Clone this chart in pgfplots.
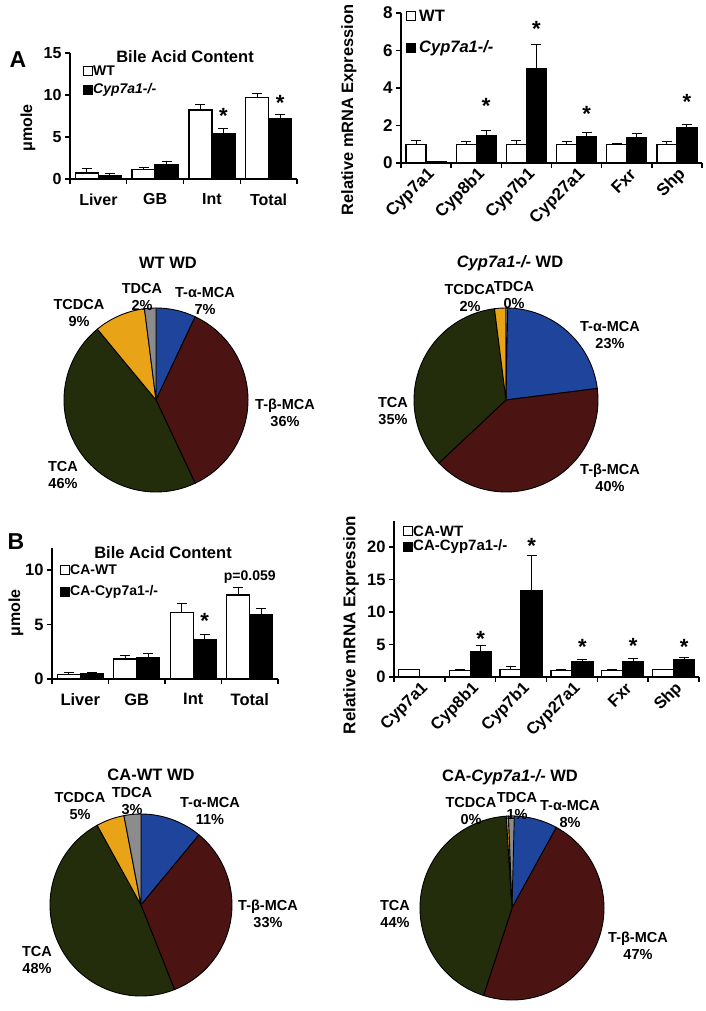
\documentclass[border=0pt]{standalone}
\usepackage{fontspec}
\setmainfont{Liberation Sans}
\usepackage{pgfplots}
\usepackage{pgfplotstable}
\pgfplotsset{compat=1.18}

\definecolor{alphamca}{HTML}{1E449B}
\definecolor{betamca}{HTML}{4B1412}
\definecolor{tcagreen}{HTML}{232D0C}
\definecolor{tcdcaorange}{HTML}{E8A317}
\definecolor{tdcagray}{HTML}{8C8C8C}

\newcommand{\fs}[1]{\fontsize{#1}{#1}\selectfont\bfseries}

% bile acid content, panel A
\pgfplotstableread{
x wt wte ko koe
0 0.70 0.60 0.36 0.32
1 1.15 0.25 1.67 0.43
2 8.20 0.70 5.44 0.60
3 9.70 0.50 7.20 0.50
}\contentA
% mRNA, panel A
\pgfplotstableread{
x wt wte ko koe
0 1.00 0.20 0.05 0.00
1 1.00 0.12 1.45 0.30
2 1.00 0.22 5.05 1.25
3 1.00 0.12 1.40 0.25
4 1.00 0.05 1.35 0.20
5 1.00 0.12 1.90 0.15
}\mrnaA
% bile acid content, panel B
\pgfplotstableread{
x wt wte ko koe
0 0.43 0.12 0.46 0.10
1 1.83 0.35 1.93 0.45
2 6.08 0.80 3.64 0.40
3 7.70 0.70 5.93 0.55
}\contentB
% mRNA, panel B
\pgfplotstableread{
x wt wte ko koe
0 1.10 0.12 0.10 0.00
1 1.05 0.15 3.95 0.90
2 1.10 0.45 13.30 5.40
3 1.05 0.10 2.30 0.40
4 1.05 0.10 2.30 0.50
5 1.10 0.12 2.70 0.35
}\mrnaB

\pgfplotsset{
  barchart/.style={
    scale only axis, anchor=south west, clip=false,
    axis x line*=bottom, axis y line*=left,
    axis line style={line width=1.4pt, -},
    every outer x axis line/.append style={-},
    every outer y axis line/.append style={-},
    ymin=0, ybar=0pt,
    xtick style={draw=none},
    ytick style={line width=1.4pt, black},
    tick align=outside, major tick length=5pt,
    /pgf/number format/assume math mode=true,
  },
  wtbar/.style={draw=black, fill=white, line width=1.3pt},
  kobar/.style={draw=black, fill=black, line width=1.3pt},
  errs/.style={error bars/.cd, y dir=plus, y explicit,
    error bar style={line width=1pt, black},
    error mark options={rotate=90, mark size=5pt, line width=1pt, black}},
}

% legend square centred at (#1,#2)
\newcommand{\legbox}[3]{\draw[line width=1pt, fill=#3] (#1pt-4.5pt,#2pt-4.5pt) rectangle ++(9pt,9pt);}

% pie: #1 x, #2 y, #3 radius, #4..#8 = T-a-MCA, T-b-MCA, TCA, TCDCA, TDCA (%)
\newcommand{\pie}[8]{%
  \pgfmathsetmacro\aA{90}%
  \pgfmathsetmacro\aB{\aA-3.6*#4}%
  \pgfmathsetmacro\aC{\aB-3.6*#5}%
  \pgfmathsetmacro\aD{\aC-3.6*#6}%
  \pgfmathsetmacro\aE{\aD-3.6*#7}%
  \pgfmathsetmacro\aF{\aE-3.6*#8}%
  \begin{axis}[hide axis, scale only axis, clip=false,
      at={(#1pt,#2pt)}, anchor=center, width=2*#3pt, height=2*#3pt,
      xmin=-1, xmax=1, ymin=-1, ymax=1]
    \fill[alphamca, draw=black, line width=0.9pt] (axis cs:0,0) -- ++(\aA:#3pt) arc[start angle=\aA, end angle=\aB, radius=#3pt] -- cycle;
    \fill[betamca, draw=black, line width=0.9pt] (axis cs:0,0) -- ++(\aB:#3pt) arc[start angle=\aB, end angle=\aC, radius=#3pt] -- cycle;
    \fill[tcagreen, draw=black, line width=0.9pt] (axis cs:0,0) -- ++(\aC:#3pt) arc[start angle=\aC, end angle=\aD, radius=#3pt] -- cycle;
    \fill[tcdcaorange, draw=black, line width=0.9pt] (axis cs:0,0) -- ++(\aD:#3pt) arc[start angle=\aD, end angle=\aE, radius=#3pt] -- cycle;
    \fill[tdcagray, draw=black, line width=0.9pt] (axis cs:0,0) -- ++(\aE:#3pt) arc[start angle=\aE, end angle=\aF, radius=#3pt] -- cycle;
  \end{axis}}

\begin{document}
\begin{tikzpicture}
\path[use as bounding box] (0,0) rectangle (706pt,1011pt);

% ---------- A: bile acid content ----------
\begin{axis}[barchart, at={(70pt,832pt)}, width=227pt, height=126pt,
    xmin=-0.5, xmax=3.5, ymax=15, ytick={0,5,10,15}, bar width=23pt,
    xtick={0,...,3}, xticklabels={Liver,GB,Int,Total},
    ticklabel style={font=\fs{16}}, xticklabel style={yshift=-6pt}]
  \addplot[wtbar, errs] table[x=x, y=wt, y error=wte] {\contentA};
  \addplot[kobar, errs] table[x=x, y=ko, y error=koe] {\contentA};
  \pgfplotsinvokeforeach{-0.5,0.5,1.5,2.5,3.5}{\draw[line width=1.4pt] (axis cs:#1,0) -- ++(0pt,-5pt);}
  \node[font=\fs{22}, xshift=11.5pt] at (axis cs:2,7.5) {*};
  \node[font=\fs{22}, xshift=11.5pt] at (axis cs:3,9.05) {*};
\end{axis}
\node[font=\fs{23}] at (18pt,951pt) {A};
\node[font=\fs{16.5}] at (185pt,954pt) {Bile Acid Content};
\node[font=\fs{16}, rotate=90] at (28pt,883pt) {μmole};
\legbox{87.5}{940}{white}
\legbox{87.5}{921}{black}
\node[font=\fs{14}, anchor=west, inner sep=0pt] at (93pt,940pt) {WT};
\node[font=\fs{14}, anchor=west, inner sep=0pt] at (93pt,921pt) {\itshape Cyp7a1-/-};

% ---------- A: mRNA ----------
\begin{axis}[barchart, at={(401pt,848pt)}, width=301pt, height=150pt,
    xmin=-0.5, xmax=5.5, ymax=8, ytick={0,2,4,6,8}, bar width=20pt,
    xtick={0,...,5}, xticklabels={Cyp7a1,Cyp8b1,Cyp7b1,Cyp27a1,Fxr,Shp},
    ticklabel style={font=\fs{17}},
    xticklabel style={rotate=45, anchor=east, xshift=5pt, yshift=-7pt}]
  \addplot[wtbar, errs] table[x=x, y=wt, y error=wte] {\mrnaA};
  \addplot[kobar, errs] table[x=x, y=ko, y error=koe] {\mrnaA};
  \pgfplotsinvokeforeach{-0.5,0.5,1.5,2.5,3.5,4.5,5.5}{\draw[line width=1.4pt] (axis cs:#1,0) -- ++(0pt,-5pt);}
  \node[font=\fs{22}, xshift=10pt] at (axis cs:1,3.04) {*};
  \node[font=\fs{22}, xshift=10pt] at (axis cs:2,7.15) {*};
  \node[font=\fs{22}, xshift=10pt] at (axis cs:3,2.61) {*};
  \node[font=\fs{22}, xshift=10pt] at (axis cs:5,3.25) {*};
\end{axis}
\node[font=\fs{16.4}, rotate=90] at (349pt,901pt) {Relative mRNA Expression};
\legbox{411}{995}{white}
\legbox{411}{963}{black}
\node[font=\fs{16.5}, anchor=west, inner sep=0pt] at (419pt,995pt) {WT};
\node[font=\fs{16.5}, anchor=west, inner sep=0pt] at (419pt,963pt) {\itshape Cyp7a1-/-};

% ---------- A: pies ----------
\pie{156}{611}{92}{7}{36}{46}{9}{2}
\node[font=\fs{16.5}] at (168pt,748pt) {WT WD};
\begin{scope}[every node/.style={font=\fontsize{14.5}{16.5}\selectfont\bfseries, align=center, inner sep=0pt}]
  \node at (205pt,710pt) {T-α-MCA\\7\%};
  \node at (285pt,598pt) {T-β-MCA\\36\%};
  \node at (63pt,536pt) {TCA\\46\%};
  \node at (79pt,698pt) {TCDCA\\9\%};
  \node at (142pt,714pt) {TDCA\\2\%};
\end{scope}

\pie{506}{611}{92}{23}{40}{35}{2}{0.3}
\node[font=\fs{16.5}] at (510pt,748pt) {\itshape Cyp7a1-/-\upshape{} WD};
\begin{scope}[every node/.style={font=\fontsize{14.5}{16.5}\selectfont\bfseries, align=center, inner sep=0pt}]
  \node at (610pt,676pt) {T-α-MCA\\23\%};
  \node at (610pt,533pt) {T-β-MCA\\40\%};
  \node at (393pt,600pt) {TCA\\35\%};
  \node at (470pt,713pt) {TCDCA\\2\%};
  \node at (514pt,716pt) {TDCA\\0\%};
\end{scope}

% ---------- B: bile acid content ----------
\begin{axis}[barchart, at={(52pt,332pt)}, width=226pt, height=131pt,
    xmin=-0.5, xmax=3.5, ymax=12, ytick={0,5,10}, bar width=23pt,
    xtick={0,...,3}, xticklabels={Liver,GB,Int,Total},
    ticklabel style={font=\fs{16.5}}, xticklabel style={yshift=-6pt}]
  \addplot[wtbar, errs] table[x=x, y=wt, y error=wte] {\contentB};
  \addplot[kobar, errs] table[x=x, y=ko, y error=koe] {\contentB};
  \pgfplotsinvokeforeach{-0.5,0.5,1.5,2.5,3.5}{\draw[line width=1.4pt] (axis cs:#1,0) -- ++(0pt,-5pt);}
  \node[font=\fs{22}, xshift=11.5pt] at (axis cs:2,5.3) {*};
  \node[font=\fs{14}] at (axis cs:3,9.36) {p=0.059};
\end{axis}
\node[font=\fs{23}] at (16pt,469pt) {B};
\node[font=\fs{16.5}] at (163pt,458pt) {Bile Acid Content};
\node[font=\fs{16}, rotate=90] at (16pt,398pt) {μmole};
\legbox{65}{441}{white}
\legbox{65}{419}{black}
\node[font=\fs{14}, anchor=west, inner sep=0pt] at (70pt,441pt) {CA-WT};
\node[font=\fs{14}, anchor=west, inner sep=0pt] at (70pt,419pt) {CA-Cyp7a1-/-};

% ---------- B: mRNA ----------
\begin{axis}[barchart, at={(394pt,334pt)}, width=305pt, height=156pt,
    xmin=-0.5, xmax=5.5, ymax=24, ytick={0,5,10,15,20}, bar width=21pt,
    xtick={0,...,5}, xticklabels={Cyp7a1,Cyp8b1,Cyp7b1,Cyp27a1,Fxr,Shp},
    ticklabel style={font=\fs{16.5}},
    xticklabel style={rotate=45, anchor=east, xshift=5pt, yshift=-7pt}]
  \addplot[wtbar, errs] table[x=x, y=wt, y error=wte] {\mrnaB};
  \addplot[kobar, errs] table[x=x, y=ko, y error=koe] {\mrnaB};
  \pgfplotsinvokeforeach{-0.5,0.5,1.5,2.5,3.5,4.5,5.5}{\draw[line width=1.4pt] (axis cs:#1,0) -- ++(0pt,-5pt);}
  \node[font=\fs{22}, xshift=10.5pt] at (axis cs:1,5.85) {*};
  \node[font=\fs{22}, xshift=10.5pt] at (axis cs:2,20.15) {*};
  \node[font=\fs{22}, xshift=10.5pt] at (axis cs:3,4.6) {*};
  \node[font=\fs{22}, xshift=10.5pt] at (axis cs:4,4.8) {*};
  \node[font=\fs{22}, xshift=10.5pt] at (axis cs:5,4.6) {*};
\end{axis}
\node[font=\fs{17}, rotate=90] at (351pt,386pt) {Relative mRNA Expression};
\legbox{407.5}{480}{white}
\legbox{407.5}{464}{black}
\node[font=\fs{15}, anchor=west, inner sep=0pt] at (413pt,480pt) {CA-WT};
\node[font=\fs{15}, anchor=west, inner sep=0pt] at (413pt,464pt) {CA-Cyp7a1-/-};

% ---------- B: pies ----------
\pie{141}{106}{91}{11}{33}{48}{5}{3}
\node[font=\fs{16.5}] at (151pt,236pt) {CA-WT WD};
\begin{scope}[every node/.style={font=\fontsize{14.5}{16.5}\selectfont\bfseries, align=center, inner sep=0pt}]
  \node at (210pt,200pt) {T-α-MCA\\11\%};
  \node at (268pt,97pt) {T-β-MCA\\33\%};
  \node at (37pt,51pt) {TCA\\48\%};
  \node at (80pt,205pt) {TCDCA\\5\%};
  \node at (132pt,210pt) {TDCA\\3\%};
\end{scope}

\pie{512}{103}{92}{8}{47}{44}{0.4}{1}
\node[font=\fs{16.5}] at (510pt,234pt) {CA-\itshape Cyp7a1-/-\upshape{} WD};
\begin{scope}[every node/.style={font=\fontsize{14.5}{16.5}\selectfont\bfseries, align=center, inner sep=0pt}]
  \node at (570pt,197pt) {T-α-MCA\\8\%};
  \node at (638pt,65pt) {T-β-MCA\\47\%};
  \node at (395pt,97pt) {TCA\\44\%};
  \node at (471pt,200pt) {TCDCA\\0\%};
  \node at (517pt,205pt) {TDCA\\1\%};
\end{scope}
\end{tikzpicture}
\end{document}
